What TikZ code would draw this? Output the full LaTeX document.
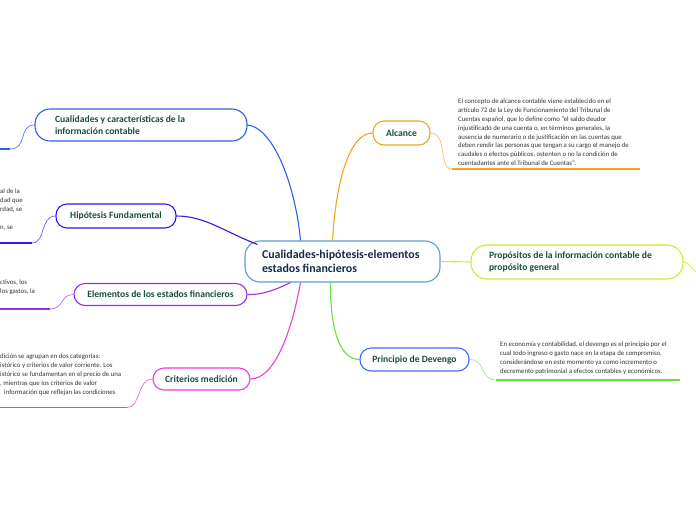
\documentclass[tikz,border=0pt]{standalone}
\usepackage{fontspec}
\setmainfont{Carlito}
\usetikzlibrary{calc}
\definecolor{ntext}{HTML}{1B4D3E}
\definecolor{ctext}{HTML}{16294A}
\definecolor{btext}{HTML}{333333}
\definecolor{ccen}{HTML}{5B9BD5}
\definecolor{cqual}{HTML}{2F5FEA}
\definecolor{chip}{HTML}{3A14EE}
\definecolor{celem}{HTML}{9A2FEA}
\definecolor{ccrit}{HTML}{EE3AE2}
\definecolor{calc}{HTML}{F5A21C}
\definecolor{cprop}{HTML}{D2EA2C}
\definecolor{cprin}{HTML}{3B6EF2}
\definecolor{cgreen}{HTML}{62E43A}
\definecolor{clgreen}{HTML}{98EE70}
\newcommand{\fixsp}{\spaceskip=\fontdimen2\font\relax}
\tikzset{
  topic/.style={draw, rounded corners=11pt, line width=1.1pt, fill=white, text=ntext,
    font=\bfseries\fontsize{9.6}{12}\selectfont, inner sep=0pt, align=center},
  central/.style={draw=ccen, rounded corners=15pt, line width=1.1pt, fill=white, text=ctext,
    font=\bfseries\fontsize{11.9}{14.5}\selectfont, inner ysep=0pt},
  body/.style={text=btext, font=\fontsize{6.8}{8.9}\selectfont, inner sep=0pt, align=left, anchor=north west},
  branch/.style={line width=1.1pt},
  twig/.style={line width=0.7pt},
  uline/.style={line width=1.7pt}
}
\begin{document}
\begin{tikzpicture}[x=1pt,y=-1pt]
\useasboundingbox (0,0) rectangle (696,520);

% central
\node[central, minimum width=195pt, minimum height=41pt, text width=161pt, inner xsep=17pt, align=left] (c) at (342.5,261.5) {\fixsp Cualidades-hipótesis-elementos\\estados financieros};

% topics
\node[topic, draw=cqual, rounded corners=15pt, minimum width=212pt, minimum height=32pt, text width=172pt, inner xsep=20pt, align=left] (q) at (141,125) {\fixsp Cualidades y características de la\\información contable};
\node[topic, draw=chip, minimum width=120pt, minimum height=24pt] (h) at (116,216) {Hipótesis Fundamental};
\node[topic, draw=celem, minimum width=173pt, minimum height=22pt] (e) at (160.5,294.5) {Elementos de los estados financieros};
\node[topic, draw=ccrit, minimum width=97pt, minimum height=22pt] (m) at (201.5,379) {Criterios medición};
\node[topic, draw=calc, minimum width=57pt, minimum height=24pt] (a) at (401.5,133) {Alcance};
\node[topic, draw=cprop, rounded corners=16pt, minimum width=212pt, minimum height=34pt, text width=176pt, inner xsep=18pt, align=left] (p) at (577,262) {\fixsp Propósitos de la información contable de\\propósito general};
\node[topic, draw=cprin, minimum width=109pt, minimum height=23pt] (d) at (414.5,359.5) {Principio de Devengo};

% main branches
\draw[branch, cqual] ([xshift=-42pt]c.north) .. controls (296,190) and (275,128) .. (q.east);
\draw[branch, chip] ([xshift=-85pt,yshift=-4pt]c.north) .. controls (225,232) and (205,216) .. (h.east);
\draw[branch, celem] ([xshift=-52pt]c.south) .. controls (275,290) and (262,295) .. (e.east);
\draw[branch, ccrit] ([xshift=-42pt]c.south) .. controls (292,330) and (275,379) .. (m.east);
\draw[branch, calc] ([xshift=-10pt]c.north) .. controls (336,180) and (350,133) .. (a.west);
\draw[branch, cgreen] ([xshift=-12pt]c.south) .. controls (330,330) and (340,359.5) .. (d.west);
\draw[branch, cprop] (c.east) -- (p.west);

% sub branches
\coordinate (qu) at (10,149);
\coordinate (hu) at (32,243);
\coordinate (eu) at (50,309);
\coordinate (mu) at (127,407.5);
\coordinate (au) at (452,169);
\coordinate (du) at (496,380);
\coordinate (pu) at (696,272);

\draw[twig, cqual!80] (q.west) .. controls (18,125) and (28,149) .. (qu);
\draw[uline, cqual] (qu) -- (0,149);
\draw[twig, chip!70] (h.west) .. controls (40,216) and (46,243) .. (hu);
\draw[uline, chip] (hu) -- (0,243);
\draw[twig, celem!70] (e.west) .. controls (60,294.5) and (64,309) .. (eu);
\draw[uline, celem] (eu) -- (0,309);
\draw[twig, ccrit!80] (m.west) .. controls (137,379) and (141,407.5) .. (mu);
\draw[uline, ccrit] (mu) -- (0,407.5);
\draw[twig, calc!70] (a.east) .. controls (448,133) and (438,169) .. (au);
\draw[uline, calc] (au) -- (640,169);
\draw[twig, clgreen] (d.east) .. controls (486,359.5) and (480,380) .. (du);
\draw[uline, cgreen] (du) -- (680,380);
\draw[twig, cprop] (p.east) .. controls (690,262) and (692,270) .. (pu);

% body texts
\node[body] (at) at (458,98.5) {El concepto de alcance contable viene establecido en el\\artículo 72 de la Ley de Funcionamiento del Tribunal de\\Cuentas español, que lo define como "el saldo deudor\\injustificado de una cuenta o, en términos generales, la\\ausencia de numerario o de justificación en las cuentas que\\deben rendir las personas que tengan a su cargo el manejo de\\caudales o efectos públicos, ostenten o no la condición de\\cuentadantes ante el Tribunal de Cuentas".};
\node[body] (dt) at (500,341.5) {En economía y contabilidad, el devengo es el principio por el\\cual todo ingreso o gasto nace en la etapa de compromiso,\\considerándose en este momento ya como incremento o\\decremento patrimonial a efectos contables y económicos.};

% clipped fragments on the left
\node[body] (ht) at (0,188.5) {al de la\\dad que\\rdad, se\\\mbox{}\\n, se};
\node[body] (et) at (0,279.5) {ctivos, los\\los gastos, la};
\node[body] (mt) at (0,353.5) {dición se agrupan en dos categorías:\\istórico y criterios de valor corriente. Los\\istórico se fundamentan en el precio de una\\, mientras que los criterios de valor\\\hspace{4pt}información que reflejan las condiciones};
\end{tikzpicture}
\end{document}
